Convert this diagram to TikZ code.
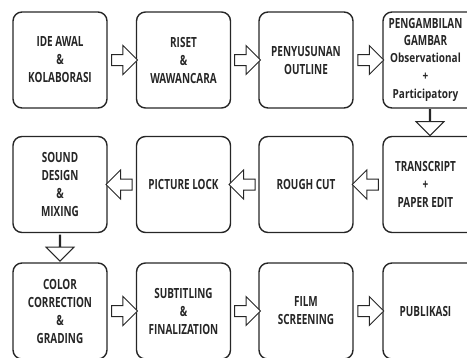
\documentclass[tikz,border=0pt]{standalone}
\usepackage{fontspec}
\setmainfont{Open Sans}[FakeStretch=0.71]
\newfontfamily\smallfont{Open Sans}[FakeStretch=0.80]
\usetikzlibrary{shapes.arrows,calc}
\newcommand\smalltext{\smallfont\bfseries\fontsize{12.5}{12}\selectfont}
\newcommand\shiftleft{\hspace*{-9pt}}
\tikzset{
  stepbox/.style={draw=black!85, line width=1.4pt, rounded corners=9pt,
    minimum width=94pt, minimum height=96pt, align=center, inner sep=0pt,
    font=\bfseries\fontsize{14}{18}\selectfont, text=black!85},
  blockarrow/.style={single arrow, draw=black!85, line width=1pt, fill=white,
    inner xsep=0pt, inner ysep=5pt, minimum height=26pt, minimum width=28pt,
    single arrow head extend=9pt, single arrow head indent=0pt}
}
\begin{document}
\begin{tikzpicture}[x=1pt,y=-1pt]
\useasboundingbox (0,0) rectangle (467,357);

% Drawing row 1
\node [stepbox] (ide) at (60,60) {IDE AWAL\\\&\\KOLABORASI};
\node [stepbox] (riset) at (183.5,60) {RISET\\\&\\WAWANCARA};
\node [stepbox] (outline) at (306,60) {PENYUSUNAN\\OUTLINE};
\node [stepbox] (ambil) at (430,60) {\shiftleft PENGAMBILAN\\[-1pt]\shiftleft GAMBAR\\[-1pt]
  \smalltext\shiftleft Observational\\\smalltext\shiftleft +\\\smalltext\shiftleft Participatory};

% Drawing row 2
\node [stepbox] (sound) at (60,184.5) {SOUND\\DESIGN\\\&\\MIXING};
\node [stepbox] (lock) at (183.5,184.5) {PICTURE LOCK};
\node [stepbox] (rough) at (306,184.5) {ROUGH CUT};
\node [stepbox] (paper) at (430,184.5) {\shiftleft TRANSCRIPT\\\shiftleft +\\\shiftleft PAPER EDIT};

% Drawing row 3
\node [stepbox] (color) at (60,311) {COLOR\\CORRECTION\\\&\\GRADING};
\node [stepbox] (subtitle) at (183.5,311) {SUBTITLING\\\&\\FINALIZATION};
\node [stepbox] (screen) at (306,311) {FILM\\SCREENING};
\node [stepbox] (publik) at (430,311) {\shiftleft PUBLIKASI};

% Drawing arrows
\node [blockarrow] (a1) at ($(ide.east)!0.5!(riset.west)$) {};
\node [blockarrow] (a2) at ($(riset.east)!0.5!(outline.west)$) {};
\node [blockarrow] (a3) at ($(outline.east)!0.5!(ambil.west)$) {};
\node [blockarrow, shape border rotate=270] (a4) at ($(ambil.south)!0.5!(paper.north)$) {};
\node [blockarrow, shape border rotate=180] (a5) at ($(paper.west)!0.5!(rough.east)$) {};
\node [blockarrow, shape border rotate=180] (a6) at ($(rough.west)!0.5!(lock.east)$) {};
\node [blockarrow, shape border rotate=180] (a7) at ($(lock.west)!0.5!(sound.east)$) {};
\node [blockarrow, shape border rotate=270] (a8) at ($(sound.south)!0.5!(color.north)$) {};
\node [blockarrow] (a9) at ($(color.east)!0.5!(subtitle.west)$) {};
\node [blockarrow] (a10) at ($(subtitle.east)!0.5!(screen.west)$) {};
\node [blockarrow] (a11) at ($(screen.east)!0.5!(publik.west)$) {};
\end{tikzpicture}
\end{document}
